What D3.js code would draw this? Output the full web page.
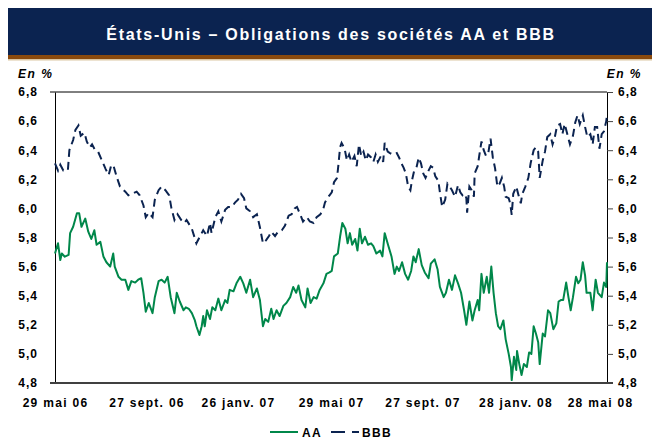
<!DOCTYPE html>
<html>
<head>
<meta charset="utf-8">
<script src="https://cdn.jsdelivr.net/npm/d3@7"></script>
<style>
  body { margin: 0; background: #fff; }
  svg { display: block; font-family: "Liberation Sans", Arial, sans-serif; }
</style>
</head>
<body>
<svg id="chart"></svg>
<script>
// dates are day offsets from 29 May 2006
const aaDays = [0,4,7,9,13,18,20,24,29,32,35,40,44,48,52,55,60,64,68,73,77,79,84,88,93,97,101,106,110,114,117,120,124,129,132,137,141,145,149,153,158,161,165,170,173,177,181,185,
  187,191,194,196,198,201,205,208,212,216,220,225,228,231,236,240,245,249,253,258,262,267,271,275,278,282,286,289,293,297,302,306,311,315,319,322,326,331,334,338,342,346,350,355,359,363,
  366,369,374,377,380,384,387,390,393,397,400,403,406,410,414,418,421,425,430,433,436,441,445,449,452,455,459,463,467,471,474,477,481,485,489,494,497,502,506,509,514,517,521,525,529,533,537,541,
  544,548,552,555,559,561,564,567,571,574,577,580,583,586,589,593,596,600,603,604,607,610,611,614,617,620,624,627,630,633,636,639,641,645,648,652,655,659,663,666,669,672,676,679,682,685,689,692,695,698,701,703,708,711,715,718,723,726,729,730];
const aaValues = [5.69,5.76,5.645,5.69,5.668,5.68,5.83,5.874,5.966,5.966,5.874,5.93,5.84,5.79,5.85,5.75,5.77,5.67,5.63,5.60,5.69,5.60,5.53,5.51,5.51,5.44,5.50,5.49,5.51,5.52,5.42,5.29,5.35,5.28,5.39,5.50,5.51,5.49,5.53,5.39,5.28,5.42,5.36,5.30,5.32,5.31,5.28,5.23,
  5.19,5.13,5.19,5.26,5.19,5.30,5.24,5.32,5.30,5.38,5.30,5.37,5.35,5.44,5.43,5.485,5.53,5.485,5.42,5.51,5.39,5.45,5.37,5.19,5.24,5.22,5.31,5.24,5.30,5.26,5.33,5.35,5.39,5.46,5.42,5.47,5.37,5.32,5.45,5.35,5.39,5.38,5.44,5.485,5.55,5.56,
  5.57,5.67,5.69,5.805,5.90,5.86,5.76,5.83,5.75,5.79,5.71,5.86,5.76,5.805,5.75,5.76,5.74,5.69,5.71,5.67,5.83,5.74,5.67,5.55,5.60,5.57,5.63,5.55,5.51,5.57,5.67,5.63,5.72,5.61,5.56,5.52,5.62,5.65,5.58,5.46,5.39,5.42,5.51,5.44,5.54,5.485,5.42,5.30,
  5.20,5.36,5.23,5.30,5.37,5.30,5.55,5.42,5.53,5.42,5.60,5.42,5.28,5.19,5.17,5.23,5.10,5.00,4.91,4.82,4.98,4.89,5.02,4.93,4.855,4.93,4.91,5.01,5.00,5.19,5.14,5.08,4.93,5.14,5.12,5.30,5.28,5.17,5.21,5.36,5.37,5.37,5.49,5.39,5.30,5.39,5.53,5.485,5.51,5.63,5.54,5.42,5.42,5.30,5.51,5.42,5.39,5.49,5.46,5.63];

const bbbDays = [0,4,7,11,17,19,24,27,31,34,39,42,46,49,53,57,62,67,71,74,77,82,86,93,97,102,108,112,117,120,124,129,132,137,141,146,151,154,158,162,167,171,174,181,
  187,192,196,201,205,207,212,216,220,225,229,234,238,242,246,250,253,258,262,267,271,275,279,283,286,291,295,300,304,309,313,317,320,325,328,333,337,342,346,351,355,357,360,363,
  366,369,373,375,377,379,383,386,389,392,396,399,402,405,408,411,414,418,421,424,427,431,434,436,440,443,447,452,455,458,461,464,467,470,472,475,478,481,484,487,490,494,497,500,503,507,509,512,516,519,522,525,529,533,536,539,542,
  544,545,548,551,554,555,559,561,564,567,570,573,576,579,582,585,588,591,594,596,600,602,604,606,610,613,616,618,622,626,629,633,636,639,641,645,648,651,655,658,661,664,668,671,674,678,681,685,688,691,694,698,701,704,708,711,714,717,720,723,726,729,730];
const bbbValues = [6.31,6.26,6.30,6.26,6.26,6.40,6.47,6.54,6.57,6.50,6.52,6.46,6.42,6.44,6.40,6.39,6.33,6.27,6.23,6.29,6.30,6.21,6.15,6.115,6.09,6.10,6.115,6.09,6.02,5.94,5.97,5.94,6.06,6.125,6.15,6.125,6.09,6.00,5.92,5.96,5.92,5.90,5.92,5.86,
  5.76,5.81,5.85,5.81,5.90,5.83,5.94,5.98,5.91,5.99,6.01,6.01,6.04,6.06,6.10,6.07,6.00,5.98,5.94,5.96,5.87,5.76,5.78,5.81,5.84,5.81,5.84,5.85,5.88,5.95,5.96,6.00,6.01,5.95,5.91,5.94,5.91,5.90,5.94,5.96,6.00,6.04,6.07,6.09,
  6.11,6.18,6.21,6.31,6.42,6.45,6.41,6.33,6.37,6.32,6.36,6.29,6.44,6.36,6.39,6.33,6.37,6.35,6.32,6.37,6.32,6.36,6.32,6.45,6.39,6.38,6.37,6.38,6.35,6.31,6.28,6.24,6.15,6.125,6.19,6.26,6.28,6.35,6.31,6.24,6.21,6.26,6.29,6.28,6.22,6.19,6.11,6.01,6.06,6.17,6.15,6.125,6.08,6.16,6.11,6.09,6.10,
  6.07,5.97,6.15,6.125,6.08,6.24,6.29,6.36,6.46,6.40,6.36,6.38,6.48,6.35,6.275,6.15,6.17,6.21,6.15,6.08,6.07,6.035,5.955,6.10,6.15,6.09,6.035,6.10,6.15,6.21,6.31,6.40,6.42,6.39,6.21,6.33,6.39,6.49,6.51,6.44,6.49,6.57,6.58,6.51,6.58,6.50,6.44,6.50,6.59,6.64,6.58,6.64,6.56,6.49,6.51,6.44,6.56,6.56,6.41,6.51,6.53,6.60,6.64];

const xTickDates = ["2006-05-29","2006-09-27","2007-01-26","2007-05-29","2007-09-27","2008-01-28","2008-05-28"];
const xTickLabels = ["29 mai 06","27 sept. 06","26 janv. 07","29 mai 07","27 sept. 07","28 janv. 08","28 mai 08"];
const yTicks = [4.8,5.0,5.2,5.4,5.6,5.8,6.0,6.2,6.4,6.6,6.8];

const W = 652, H = 440;
const plotL = 55, plotR = 607, plotT = 92, plotB = 383;
const green = "#00874a", navy = "#0b2350";

const svg = d3.select("#chart").attr("width", W).attr("height", H);
const start = new Date(2006, 4, 29);
const parse = d3.timeParse("%Y-%m-%d");

const x = d3.scaleTime().domain([start, parse("2008-05-28")]).range([plotL, plotR]);
const y = d3.scaleLinear().domain([4.8, 6.8]).range([plotB, plotT]);
const fmt = v => d3.format(".1f")(v).replace(".", ",");

// title band
svg.append("rect").attr("x", 8).attr("y", 8).attr("width", W - 8).attr("height", 47).attr("fill", navy);
svg.append("rect").attr("x", 8).attr("y", 55).attr("width", W - 8).attr("height", 4).attr("fill", "#8a4a0e");
svg.append("rect").attr("x", 8).attr("y", 59).attr("width", W - 8).attr("height", 1.5).attr("fill", "#dcc7a4");
svg.append("text").attr("x", 331).attr("y", 40).attr("text-anchor", "middle")
   .attr("fill", "#fff").attr("font-weight", "bold").attr("font-size", 16)
   .attr("letter-spacing", 1.7)
   .text("États-Unis – Obligations des sociétés AA et BBB");

// units
svg.append("text").attr("x", 18).attr("y", 78).attr("font-size", 12).attr("font-weight", "bold")
   .attr("font-style", "italic").attr("letter-spacing", 1.5).text("En %");
svg.append("text").attr("x", 642).attr("y", 78).attr("text-anchor", "end").attr("font-size", 12)
   .attr("font-weight", "bold").attr("font-style", "italic").attr("letter-spacing", 1.5).text("En %");

// axes
const yl = svg.append("g").attr("transform", `translate(${plotL},0)`)
   .call(d3.axisLeft(y).tickValues(yTicks).tickFormat(fmt).tickSize(0).tickPadding(17));
const yr = svg.append("g").attr("transform", `translate(${plotR},0)`)
   .call(d3.axisRight(y).tickValues(yTicks).tickFormat(fmt).tickSize(6).tickPadding(5));
[yl, yr].forEach(g => {
  g.select(".domain").attr("stroke", "#000");
  g.selectAll(".tick text").attr("font-size", 12).attr("font-weight", "bold")
   .attr("letter-spacing", 1).attr("fill", "#000");
  g.selectAll(".tick line").attr("stroke", "#444");
});

svg.append("line").attr("x1", plotL - 5).attr("x2", plotR).attr("y1", plotT).attr("y2", plotT)
   .attr("stroke", "#000").attr("stroke-width", 1);

const xa = svg.append("g").attr("transform", `translate(0,${plotB})`)
   .call(d3.axisBottom(x).tickValues(xTickDates.map(parse))
     .tickFormat((d, i) => xTickLabels[i]).tickSize(0).tickPadding(15));
xa.select(".domain").remove();
xa.selectAll(".tick text").attr("font-size", 12).attr("font-weight", "bold")
  .attr("letter-spacing", 1.3).attr("fill", "#000");
xa.selectAll(".tick").filter((d, i) => i === xTickDates.length - 1).select("text").attr("dx", -7);

// series
const line = d3.line().x(d => x(d3.timeDay.offset(start, d[0]))).y(d => y(d[1]));
const aa = aaDays.map((d, i) => [d, aaValues[i]]);
const bbb = bbbDays.map((d, i) => [d, bbbValues[i]]);

svg.append("path").datum(bbb).attr("d", line).attr("fill", "none")
   .attr("stroke", navy).attr("stroke-width", 2).attr("stroke-dasharray", "8,5");
svg.append("path").datum(aa).attr("d", line).attr("fill", "none")
   .attr("stroke", green).attr("stroke-width", 2).attr("stroke-linejoin", "round");

svg.append("line").attr("x1", plotL - 5).attr("x2", plotR + 6).attr("y1", plotB).attr("y2", plotB)
   .attr("stroke", "#404040").attr("stroke-width", 2);

// legend
const lg = svg.append("g").attr("font-size", 12).attr("font-weight", "bold").attr("letter-spacing", 1.3);
lg.append("line").attr("x1", 270).attr("x2", 298).attr("y1", 432).attr("y2", 432)
  .attr("stroke", green).attr("stroke-width", 2);
lg.append("text").attr("x", 302).attr("y", 436.5).text("AA");
lg.append("line").attr("x1", 331).attr("x2", 359).attr("y1", 432).attr("y2", 432)
  .attr("stroke", navy).attr("stroke-width", 2).attr("stroke-dasharray", "14,7");
lg.append("text").attr("x", 362).attr("y", 436.5).text("BBB");
</script>
</body>
</html>
